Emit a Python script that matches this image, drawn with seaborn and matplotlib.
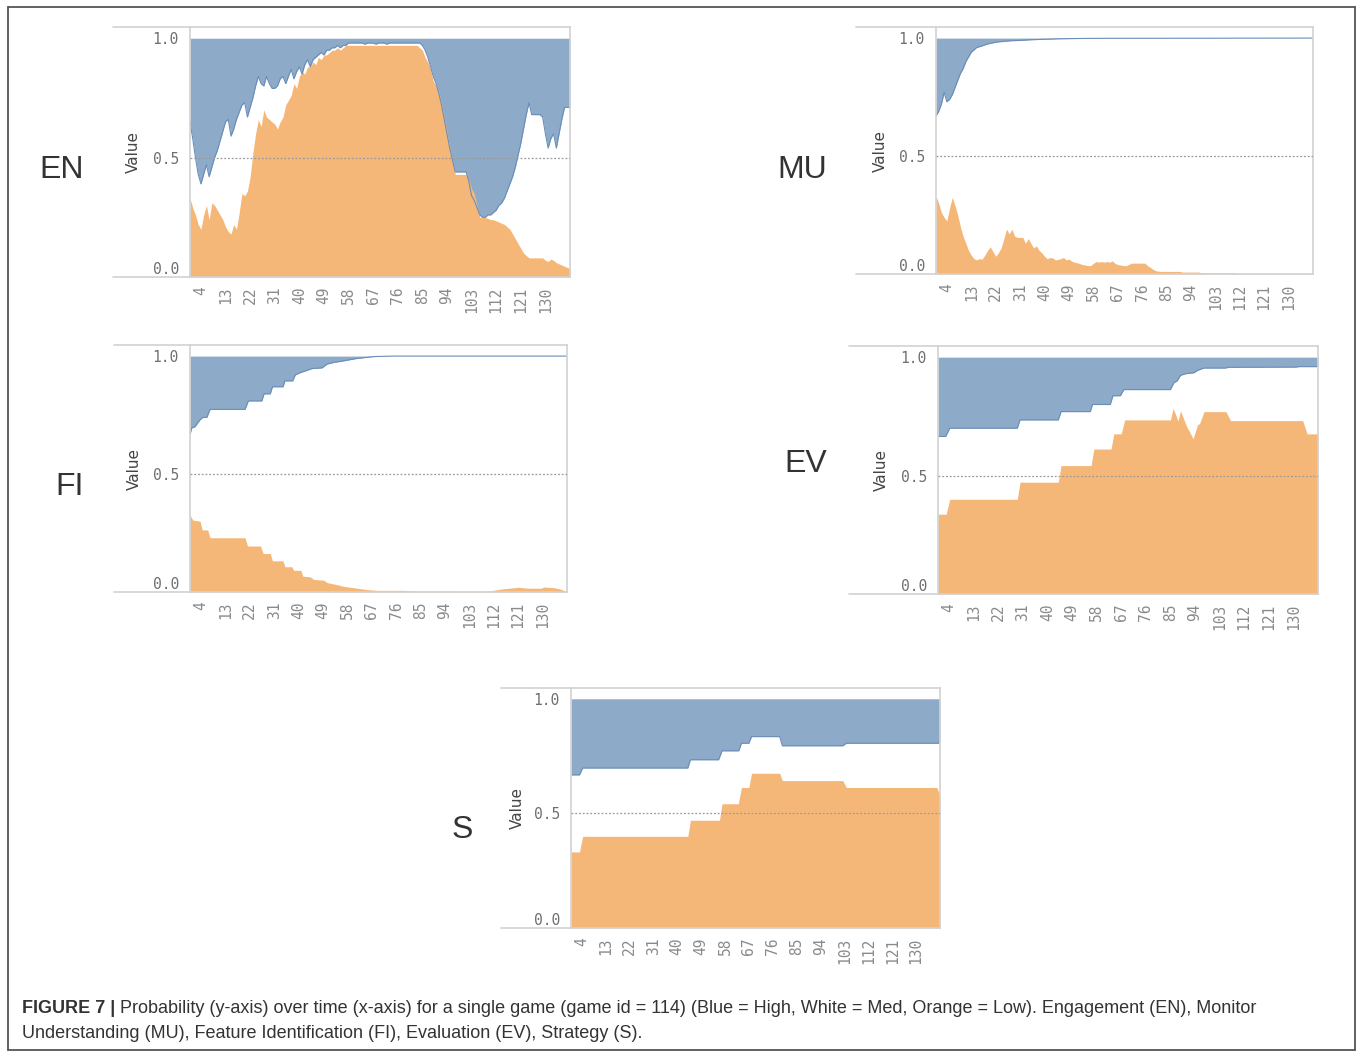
import matplotlib
matplotlib.use("Agg")
import matplotlib.pyplot as plt
from matplotlib.lines import Line2D
import seaborn as sns
import pandas as pd

# ---------------------------------------------------------------------------
# Probability of High (blue, drawn from the curve up to 1) and Low (orange,
# drawn from 0 up to the curve) for each construct over the game's time steps.
# ---------------------------------------------------------------------------
tick_steps = [4, 13, 22, 31, 40, 49, 58, 67, 76, 85, 94, 103, 112, 121, 130]
y_ticks = [0.0, 0.5, 1.0]
y_tick_labels = ["0.0", "0.5", "1.0"]

# Engagement (EN)
en_steps = list(range(140))
en_high = [
    0.65, 0.58, 0.50, 0.43, 0.39, 0.43, 0.47, 0.42, 0.46, 0.50,
    0.53, 0.57, 0.61, 0.65, 0.66, 0.59, 0.62, 0.66, 0.69, 0.72,
    0.73, 0.67, 0.71, 0.75, 0.80, 0.84, 0.81, 0.80, 0.84, 0.81,
    0.79, 0.79, 0.80, 0.83, 0.84, 0.81, 0.84, 0.87, 0.83, 0.86,
    0.88, 0.85, 0.89, 0.91, 0.88, 0.91, 0.92, 0.93, 0.94, 0.93,
    0.95, 0.95, 0.96, 0.96, 0.97, 0.96, 0.97, 0.97, 0.98, 0.98,
    0.98, 0.98, 0.98, 0.98, 0.975, 0.98, 0.98, 0.98, 0.975, 0.98,
    0.98, 0.98, 0.975, 0.98, 0.98, 0.98, 0.98, 0.98, 0.98, 0.98,
    0.98, 0.98, 0.98, 0.98, 0.98, 0.97, 0.95, 0.92, 0.88, 0.84,
    0.81, 0.77, 0.72, 0.66, 0.60, 0.54, 0.49, 0.44, 0.44, 0.44,
    0.44, 0.44, 0.40, 0.34, 0.32, 0.29, 0.26, 0.25, 0.25, 0.26,
    0.26, 0.27, 0.28, 0.30, 0.31, 0.33, 0.36, 0.39, 0.42, 0.46,
    0.51, 0.56, 0.62, 0.68, 0.73, 0.68, 0.68, 0.68, 0.68, 0.67,
    0.60, 0.54, 0.58, 0.60, 0.54, 0.60, 0.66, 0.71, 0.71, 0.71,
]
en_low = [
    0.33, 0.29, 0.26, 0.22, 0.20, 0.26, 0.30, 0.24, 0.31, 0.30,
    0.28, 0.26, 0.24, 0.21, 0.19, 0.18, 0.22, 0.20, 0.27, 0.35,
    0.34, 0.36, 0.42, 0.52, 0.60, 0.66, 0.63, 0.70, 0.67, 0.66,
    0.65, 0.64, 0.62, 0.65, 0.67, 0.72, 0.74, 0.76, 0.81, 0.79,
    0.84, 0.86, 0.85, 0.88, 0.88, 0.90, 0.89, 0.92, 0.91, 0.93,
    0.93, 0.94, 0.95, 0.95, 0.96, 0.95, 0.96, 0.97, 0.97, 0.97,
    0.97, 0.97, 0.97, 0.97, 0.97, 0.97, 0.97, 0.97, 0.97, 0.97,
    0.97, 0.97, 0.97, 0.97, 0.97, 0.97, 0.97, 0.97, 0.97, 0.97,
    0.97, 0.97, 0.97, 0.97, 0.96, 0.95, 0.92, 0.90, 0.87, 0.82,
    0.80, 0.78, 0.73, 0.67, 0.61, 0.55, 0.49, 0.43, 0.43, 0.43,
    0.43, 0.43, 0.41, 0.37, 0.35, 0.30, 0.25, 0.25, 0.25, 0.245,
    0.24, 0.24, 0.235, 0.23, 0.225, 0.22, 0.21, 0.20, 0.18, 0.16,
    0.14, 0.12, 0.10, 0.09, 0.08, 0.08, 0.08, 0.08, 0.08, 0.08,
    0.07, 0.065, 0.075, 0.07, 0.06, 0.055, 0.05, 0.045, 0.04, 0.035,
]

# Monitor Understanding (MU)
mu_high_steps = [0, 1, 2, 3, 4, 5, 6, 7, 8, 9, 10, 11, 12, 13, 14, 15,
                 17, 19, 21, 23, 25, 28, 31, 35, 40, 45, 50, 60, 139]
mu_high = [0.67, 0.69, 0.72, 0.77, 0.73, 0.74, 0.76, 0.79, 0.82, 0.85,
           0.87, 0.90, 0.92, 0.94, 0.95, 0.96, 0.967, 0.975, 0.98, 0.984,
           0.986, 0.989, 0.99, 0.993, 0.995, 0.997, 0.998, 0.999, 1.0]
mu_low_steps = list(range(84)) + [90, 91, 97, 98, 110, 111, 139]
mu_low = [
    0.33, 0.30, 0.26, 0.24, 0.225, 0.28, 0.325, 0.29, 0.25, 0.20,
    0.16, 0.13, 0.10, 0.08, 0.065, 0.06, 0.065, 0.063, 0.08, 0.10,
    0.115, 0.095, 0.075, 0.09, 0.11, 0.15, 0.19, 0.17, 0.19, 0.16,
    0.155, 0.155, 0.155, 0.13, 0.15, 0.13, 0.11, 0.12, 0.10, 0.09,
    0.075, 0.065, 0.07, 0.068, 0.06, 0.062, 0.065, 0.07, 0.06, 0.063,
    0.055, 0.05, 0.048, 0.044, 0.04, 0.038, 0.036, 0.035, 0.045, 0.053,
    0.05, 0.053, 0.05, 0.053, 0.05, 0.056, 0.045, 0.04, 0.038, 0.036,
    0.035, 0.04, 0.046, 0.046, 0.046, 0.046, 0.046, 0.046, 0.035, 0.028,
    0.02, 0.014, 0.012, 0.011,
    0.011, 0.008, 0.008, 0.005, 0.005, 0.002, 0.002,
]

# Feature Identification (FI)
fi_high_steps = [0, 0.6, 1.8, 3.7, 4.7, 6.2, 7.4, 20.3, 21.5, 26.5,
                 27.3, 29.6, 30.4, 34.3, 35, 37.9, 38.8, 40.7, 42, 45,
                 48.7, 50.5, 53, 56.7, 61.6, 67.8, 75, 139]
fi_high = [0.667, 0.695, 0.70, 0.73, 0.74, 0.74, 0.774, 0.774, 0.81, 0.81,
           0.84, 0.84, 0.87, 0.87, 0.895, 0.895, 0.92, 0.93, 0.935, 0.947,
           0.95, 0.966, 0.973, 0.98, 0.99, 0.998, 1.0, 1.0]
fi_low_steps = [0, 1, 3.7, 4.5, 6.5, 7.4, 20.3, 21.2, 26, 27,
                29.6, 30.4, 34.3, 35, 37.6, 38.2, 40.9, 41.6, 44.4, 45.6,
                49.3, 50.5, 54.2, 56.7, 60.4, 65.3, 69, 78.9, 83.8, 109.7,
                113.4, 115.8, 119.5, 121, 124.5, 129.4, 130.6, 133, 134.3, 136.7,
                138.5, 139]
fi_low = [0.327, 0.305, 0.30, 0.263, 0.263, 0.23, 0.23, 0.195, 0.195, 0.163,
          0.163, 0.132, 0.132, 0.107, 0.107, 0.092, 0.092, 0.067, 0.064, 0.053,
          0.05, 0.04, 0.031, 0.024, 0.018, 0.01, 0.007, 0.007, 0.004, 0.003,
          0.01, 0.014, 0.018, 0.02, 0.016, 0.016, 0.021, 0.019, 0.018, 0.012,
          0.004, 0.003]

# Evaluation (EV)
ev_high_steps = [0, 2.8, 4.3, 29, 30, 44, 45, 55.7, 56.5, 63,
                 64, 66.7, 68, 85, 86.3, 87.5, 88.7, 90.6, 93.6, 94.9,
                 97.3, 105, 106.5, 131, 132, 139]
ev_high = [0.665, 0.665, 0.70, 0.70, 0.735, 0.735, 0.77, 0.77, 0.80, 0.80,
           0.837, 0.837, 0.863, 0.863, 0.892, 0.90, 0.923, 0.93, 0.934, 0.944,
           0.954, 0.954, 0.957, 0.958, 0.96, 0.96]
ev_low_steps = [0, 3, 4.3, 29, 30, 44, 45, 56, 57, 63.3,
                64.3, 67, 68.3, 85, 86, 87, 87.8, 88.7, 90, 91.2,
                91.8, 93.3, 94.9, 95.7, 97.3, 105.3, 107, 133.4, 135, 139]
ev_low = [0.337, 0.337, 0.40, 0.40, 0.472, 0.472, 0.542, 0.542, 0.612, 0.612,
          0.676, 0.676, 0.735, 0.735, 0.784, 0.755, 0.73, 0.774, 0.735, 0.70,
          0.69, 0.655, 0.714, 0.72, 0.77, 0.77, 0.732, 0.732, 0.676, 0.676]

# Strategy (S)
s_high_steps = [0, 3.2, 4.4, 44, 45, 55.6, 56.9, 63.2, 64.2, 67,
                68, 78.6, 79.6, 102.4, 103.7, 138.4, 139]
s_high = [0.668, 0.668, 0.698, 0.698, 0.734, 0.734, 0.773, 0.773, 0.806, 0.806,
          0.835, 0.835, 0.795, 0.795, 0.806, 0.806, 0.816]
s_low_steps = [0, 3.2, 4.4, 44, 45, 55.9, 56.9, 63, 64.2, 67,
               68, 78.6, 79.6, 102.4, 103.7, 137.8, 139]
s_low = [0.332, 0.332, 0.40, 0.40, 0.47, 0.47, 0.542, 0.542, 0.613, 0.613,
         0.675, 0.675, 0.643, 0.643, 0.613, 0.613, 0.575]

caption_bold = "FIGURE 7 |"
caption_line1 = ("Probability (y-axis) over time (x-axis) for a single game (game id = 114) "
                 "(Blue = High, White = Med, Orange = Low). Engagement (EN), Monitor")
caption_line2 = ("Understanding (MU), Feature Identification (FI), Evaluation (EV), "
                 "Strategy (S).")

# ---------------------------------------------------------------------------
sns.set_theme(style="white")
plt.rcParams["font.family"] = ["DejaVu Sans"]

W, H = 1360, 1056
fig = plt.figure(figsize=(W / 100, H / 100), dpi=100)
fig.patch.set_facecolor("white")

HIGH_FILL = "#8eaac9"
HIGH_EDGE = "#6a8eb9"
LOW_FILL = "#f5b778"
FRAME = "#d2d2d2"
TICK_GREY = "#8a8a8a"
MONO = "DejaVu Sans Mono"


def fig_line(x0, y0, x1, y1, **kw):
    fig.add_artist(Line2D([x0 / W, x1 / W], [1 - y0 / H, 1 - y1 / H],
                          transform=fig.transFigure, **kw))


def draw_panel(name, hx, hy, lx, ly, box):
    left, right, top, bottom = box["left"], box["right"], box["top"], box["bottom"]
    ax = fig.add_axes([left / W, 1 - bottom / H, (right - left) / W, (bottom - top) / H])
    ax.set_facecolor("white")
    high = pd.DataFrame({"step": hx, "value": hy})
    low = pd.DataFrame({"step": lx, "value": ly})

    ax.fill_between(high["step"], high["value"], 1.0, color=HIGH_FILL, lw=0, zorder=1)
    ax.fill_between(low["step"], 0, low["value"], color=LOW_FILL, lw=0, zorder=1)
    sns.lineplot(data=high, x="step", y="value", ax=ax, color=HIGH_EDGE,
                 linewidth=0.8, legend=False, zorder=2)
    ax.axhline(0.5, color="#9a9a9a", lw=0.9, ls=(0, (1.5, 1.5)), zorder=3)

    ax.set_xlim(0, 139)
    ax.set_ylim(0, 1.047)
    ax.set_xlabel("")
    ax.set_ylabel("")

    ax.set_xticks(tick_steps)
    ax.set_xticklabels([str(t) for t in tick_steps], rotation=90,
                       family=MONO, fontsize=10.5, color=TICK_GREY)
    ax.set_yticks(y_ticks)
    ax.set_yticklabels(y_tick_labels, family=MONO, fontsize=10.5, color="#6f6f6f")
    ax.yaxis.get_ticklabels()[0].set_va("bottom")
    ax.tick_params(axis="both", length=0)
    ax.tick_params(axis="x", pad=7)
    ax.tick_params(axis="y", pad=8)

    for side in ("left", "right", "top", "bottom"):
        ax.spines[side].set_visible(True)
        ax.spines[side].set_color(FRAME)
        ax.spines[side].set_linewidth(1.2)
    # header and baseline rules run under the axis title column as well
    fig_line(box["frame"], top, left, top, color=FRAME, lw=1.2)
    fig_line(box["frame"], bottom, left, bottom, color=FRAME, lw=1.2)

    fig.text(box["vlabel"] / W, 1 - (top + bottom) / 2 / H, "Value", rotation=90,
             ha="center", va="center", fontsize=11, color="#444444")
    nx, ny = box["name_xy"]
    fig.text(nx / W, 1 - ny / H, name, ha="center", va="center",
             fontsize=23, color="#333333", family="Liberation Sans")
    return ax


panels = [
    ("EN", en_steps, en_high, en_steps, en_low,
     dict(frame=113, left=190, right=570, top=27, bottom=277, vlabel=133, name_xy=(62, 170))),
    ("MU", mu_high_steps, mu_high, mu_low_steps, mu_low,
     dict(frame=856, left=936, right=1313, top=27, bottom=274, vlabel=880, name_xy=(802, 170))),
    ("FI", fi_high_steps, fi_high, fi_low_steps, fi_low,
     dict(frame=114, left=190, right=567, top=345, bottom=592, vlabel=134, name_xy=(70, 487))),
    ("EV", ev_high_steps, ev_high, ev_low_steps, ev_low,
     dict(frame=849, left=938, right=1318, top=346, bottom=594, vlabel=881, name_xy=(806, 464))),
    ("S", s_high_steps, s_high, s_low_steps, s_low,
     dict(frame=501, left=571, right=940, top=688, bottom=928, vlabel=517, name_xy=(462, 830))),
]
for p in panels:
    draw_panel(*p)

# outer border of the figure
fig_line(8, 7, 1355, 7, color="#555555", lw=1.3)
fig_line(8, 7, 8, 1050, color="#555555", lw=1.3)
fig_line(1355, 7, 1355, 1050, color="#555555", lw=1.3)
fig_line(8, 1050, 1355, 1050, color="#555555", lw=1.3)

# caption: bold figure tag followed by the regular description
cap_kw = dict(fontsize=13, color="#333333", family="Liberation Sans", va="baseline")
tag = fig.text(22 / W, 1 - 1013 / H, caption_bold, fontweight="bold", **cap_kw)
renderer = fig.canvas.get_renderer()
tag_end = tag.get_window_extent(renderer).x1
fig.text((tag_end + 5) / W, 1 - 1013 / H, caption_line1, **cap_kw)
fig.text(22 / W, 1 - 1038 / H, caption_line2, **cap_kw)

fig.savefig("out.png", dpi=100, facecolor="white")
